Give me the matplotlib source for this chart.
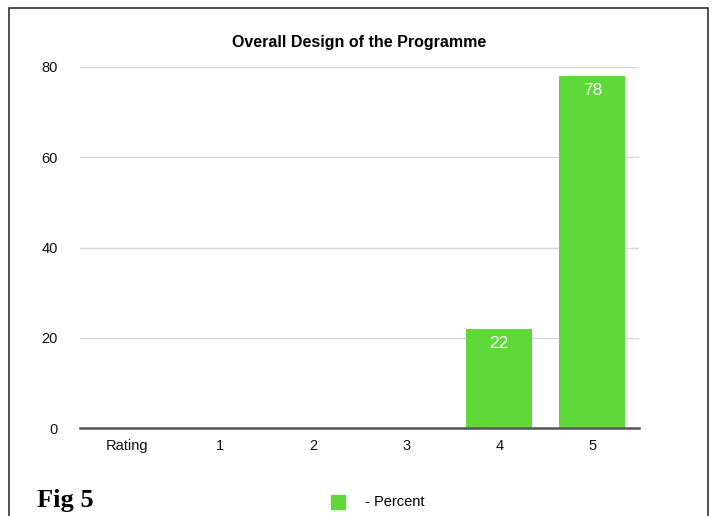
import matplotlib.pyplot as plt
from matplotlib.patches import Rectangle

plt.rcParams['font.family'] = ['Liberation Sans', 'DejaVu Sans']

categories = ['Rating', '1', '2', '3', '4', '5']
percent = [0, 0, 0, 0, 22, 78]
yticks = [0, 20, 40, 60, 80]

W, H = 714, 516
fig = plt.figure(figsize=(W / 100, H / 100), dpi=100)
ax = fig.add_axes([80 / W, 1 - 428 / H, (639 - 80) / W, (428 - 67) / H])

green = '#5ED939'
x = range(len(categories))
bars = ax.bar(x, percent, width=0.71, color=green, zorder=3)
for b, v in zip(bars, percent):
    if v > 0:
        ax.text(b.get_x() + b.get_width() / 2, v - 1.6, str(v), ha='center', va='top',
                color='white', fontsize=12.5, zorder=4)

ax.set_xlim(-0.5, 5.5)
ax.set_ylim(0, 80)
ax.set_yticks(yticks)
ax.set_xticks(list(x))
ax.set_xticklabels(categories)
ax.grid(axis='y', color='#d8d8d8', linewidth=1, zorder=0)
for s in ['top', 'right', 'left']:
    ax.spines[s].set_visible(False)
ax.spines['bottom'].set_color('#555555')
ax.spines['bottom'].set_linewidth(1.8)
ax.spines['bottom'].set_zorder(5)
ax.tick_params(axis='both', length=0, labelsize=10.5, colors='#111111')
ax.tick_params(axis='y', pad=16)
ax.tick_params(axis='x', pad=8)

fig.text((80 + 639) / 2 / W, 1 - 42 / H, 'Overall Design of the Programme', ha='center',
         va='center', fontsize=11.5, fontweight='bold')

# legend
fig.patches.append(Rectangle((331 / W, 1 - 509 / H), 14 / W, 14 / H, transform=fig.transFigure,
                             color=green, figure=fig))
fig.text(365 / W, 1 - 502 / H, '- Percent', ha='left', va='center', fontsize=10.5)

fig.text(37 / W, 1 - 500 / H, 'Fig 5', ha='left', va='center', fontsize=19,
         fontweight='bold', family='Liberation Serif')

# frame around the figure
fig.patches.append(Rectangle((9 / W, -0.05), (708 - 9) / W, 1 - 8 / H + 0.05,
                             transform=fig.transFigure, fill=False, edgecolor='#333333',
                             linewidth=1.2, figure=fig))

fig.savefig('out.png', dpi=100)
